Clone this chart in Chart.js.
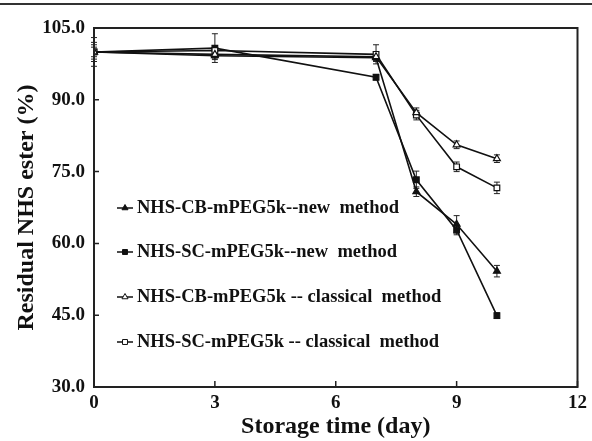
<!DOCTYPE html>
<html>
<head>
<meta charset="utf-8">
<script src="https://cdn.jsdelivr.net/npm/chart.js@4"></script>
<style>
  html, body { margin: 0; padding: 0; background: #fff; }
  #wrap { width: 592px; height: 441px; }
</style>
</head>
<body>
<div id="wrap"><canvas id="myChart" width="592" height="441"></canvas></div>
<script>
// storage days and residual NHS ester (%)
const days = [0, 3, 7, 8, 9, 10];

const cbNew = [100.0, 99.2, 98.8, 70.8, 64.0, 54.2];
const scNew = [100.0, 100.8, 94.7, 73.3, 62.8, 44.9];
const cbClassical = [100.0, 99.5, 99.0, 87.3, 80.6, 77.7];
const scClassical = [100.0, 100.3, 99.5, 86.8, 76.0, 71.6];

// error bar half widths
const cbNewErr = [1.0, 0.8, 0.6, 1.0, 1.8, 1.2];
const scNewErr = [2.0, 3.0, 0.5, 1.8, 1.0, 0.6];
const cbClassicalErr = [1.5, 0.8, 1.0, 1.0, 0.8, 0.8];
const scClassicalErr = [3.0, 1.0, 2.0, 1.0, 1.0, 1.2];

const labels = [
    'NHS-CB-mPEG5k--new  method',
    'NHS-SC-mPEG5k--new  method',
    'NHS-CB-mPEG5k -- classical  method',
    'NHS-SC-mPEG5k -- classical  method',
];

const yTicks = [30, 45, 60, 75, 90, 105];
const xTicks = [0, 3, 6, 9, 12];

const serif = '"Liberation Serif", "Times New Roman", serif';

function toPoints(vals) {
    return days.map((d, i) => ({ x: d, y: vals[i] }));
}

function makeSet(label, vals, err, style, filled) {
    return {
        label: label,
        data: toPoints(vals),
        err: err,
        filled: filled,
        borderColor: '#111',
        borderWidth: 1.6,
        backgroundColor: filled ? '#111' : '#fff',
        pointStyle: style,
        pointRadius: 4,
        pointBorderWidth: 1.2,
        pointBorderColor: '#111',
        pointBackgroundColor: filled ? '#111' : '#fff',
        tension: 0,
    };
}

const data = {
    datasets: [
        makeSet(labels[2], cbClassical, cbClassicalErr, 'triangle', false),
        makeSet(labels[3], scClassical, scClassicalErr, 'rect', false),
        makeSet(labels[0], cbNew, cbNewErr, 'triangle', true),
        makeSet(labels[1], scNew, scNewErr, 'rect', true),
    ]
};

// order used in the legend box
const legendOrder = [2, 3, 0, 1];
const legendY = [208, 252, 297, 342];

const figurePlugin = {
    id: 'figure',
    beforeDatasetsDraw(chart) {
        const ctx = chart.ctx;
        const xs = chart.scales.x, ys = chart.scales.y;
        ctx.save();
        ctx.strokeStyle = '#222';
        ctx.lineWidth = 1;
        chart.data.datasets.forEach(ds => {
            ds.data.forEach((p, i) => {
                const e = ds.err[i];
                const px = xs.getPixelForValue(p.x);
                const top = ys.getPixelForValue(p.y + e);
                const bot = ys.getPixelForValue(p.y - e);
                ctx.beginPath();
                ctx.moveTo(px, top); ctx.lineTo(px, bot);
                ctx.moveTo(px - 3, top); ctx.lineTo(px + 3, top);
                ctx.moveTo(px - 3, bot); ctx.lineTo(px + 3, bot);
                ctx.stroke();
            });
        });
        ctx.restore();
    },
    afterDraw(chart) {
        const ctx = chart.ctx;
        const a = chart.chartArea;
        const xs = chart.scales.x, ys = chart.scales.y;
        ctx.save();
        // page rule at the top
        ctx.strokeStyle = '#333';
        ctx.lineWidth = 2;
        ctx.beginPath();
        ctx.moveTo(0, 4); ctx.lineTo(592, 4);
        ctx.stroke();
        // frame
        ctx.lineWidth = 2;
        ctx.strokeStyle = '#222';
        ctx.strokeRect(a.left, a.top, a.right - a.left, a.bottom - a.top);
        // inward ticks
        ctx.lineWidth = 1.5;
        ctx.beginPath();
        yTicks.forEach(v => {
            const py = ys.getPixelForValue(v);
            ctx.moveTo(a.left, py); ctx.lineTo(a.left + 5, py);
        });
        xTicks.forEach(v => {
            const px = xs.getPixelForValue(v);
            ctx.moveTo(px, a.bottom); ctx.lineTo(px, a.bottom - 6);
        });
        ctx.stroke();
        // legend inside the plot
        legendOrder.forEach((di, k) => {
            const ds = chart.data.datasets[di];
            const y = legendY[k];
            ctx.strokeStyle = '#111';
            ctx.lineWidth = 1.5;
            ctx.beginPath();
            ctx.moveTo(117, y); ctx.lineTo(133, y);
            ctx.stroke();
            ctx.fillStyle = ds.filled ? '#111' : '#fff';
            ctx.strokeStyle = '#111';
            ctx.lineWidth = 1;
            Chart.helpers.drawPoint(ctx, {
                pointStyle: ds.pointStyle, radius: 3.5, borderWidth: 1, rotation: 0
            }, 125, y);
            ctx.font = 'bold 18.5px ' + serif;
            ctx.textBaseline = 'middle';
            ctx.fillStyle = '#111';
            ctx.fillText(ds.label, 137, y);
        });
        ctx.restore();
    }
};

const config = {
    type: 'line',
    data: data,
    options: {
        responsive: false,
        animation: false,
        layout: { padding: { left: 0, top: 28, right: 6, bottom: 0 } },
        plugins: {
            legend: { display: false },
            tooltip: { enabled: false },
        },
        scales: {
            x: {
                type: 'linear',
                min: 0, max: 12,
                afterFit(s) { s.height = 54; },
                afterBuildTicks(s) { s.ticks = xTicks.map(v => ({ value: v })); },
                grid: { display: false, drawTicks: false },
                border: { display: false },
                ticks: {
                    color: '#111', padding: 5,
                    font: { family: serif, size: 19, weight: 'bold' },
                },
                title: {
                    display: true, text: 'Storage time (day)', color: '#111',
                    padding: { top: 5, bottom: 0 },
                    font: { family: serif, size: 24, weight: 'bold' },
                },
            },
            y: {
                min: 30, max: 105,
                afterFit(s) { s.width = 94; },
                afterBuildTicks(s) { s.ticks = yTicks.map(v => ({ value: v })); },
                grid: { display: false, drawTicks: false },
                border: { display: false },
                ticks: {
                    color: '#111', padding: 9,
                    font: { family: serif, size: 19, weight: 'bold' },
                    callback: v => v.toFixed(1),
                },
                title: {
                    display: true, text: 'Residual NHS ester (%)', color: '#111',
                    padding: { top: 12, bottom: 0 },
                    font: { family: serif, size: 24, weight: 'bold' },
                },
            },
        },
    },
    plugins: [figurePlugin],
};

const myChart = new Chart(document.getElementById('myChart'), config);
</script>
</body>
</html>
